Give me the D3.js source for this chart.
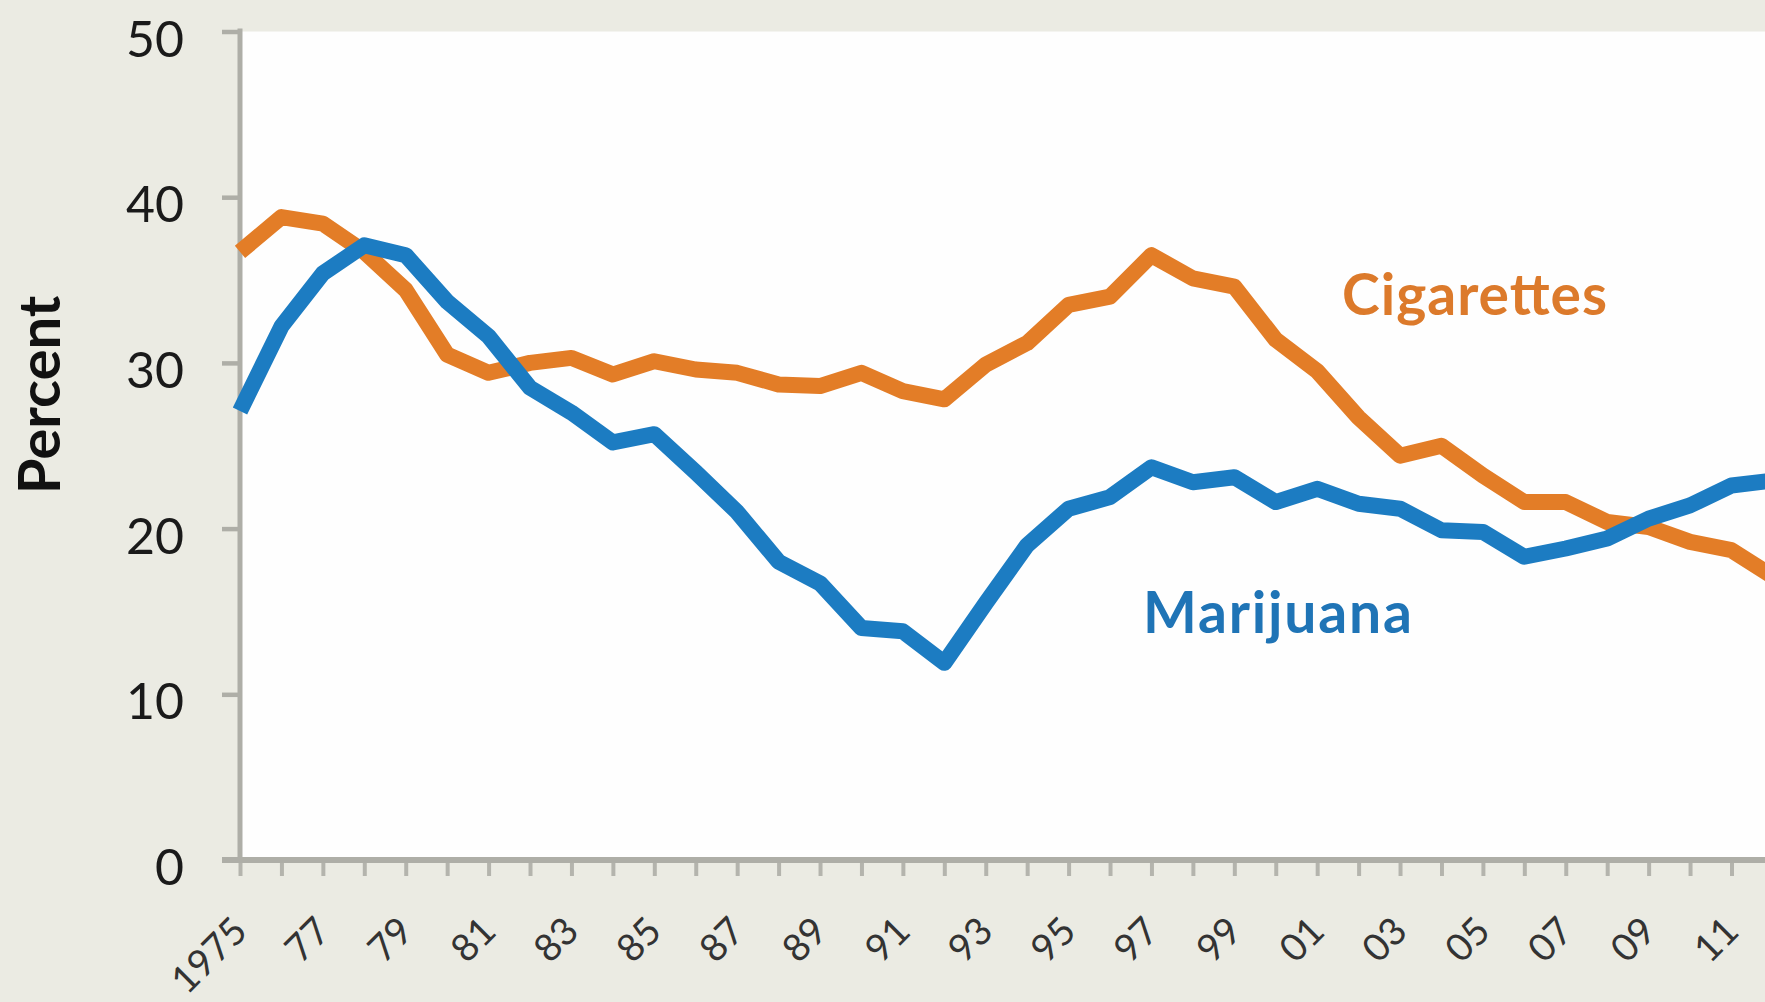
<!DOCTYPE html>
<html>
<head>
<meta charset="utf-8">
<script src="https://cdn.jsdelivr.net/npm/d3@7"></script>
<style>
  html, body { margin: 0; padding: 0; background: #ebebe3; }
  svg { display: block; }
</style>
</head>
<body>
<svg id="chart" width="1765" height="1002"></svg>
<script>
// 30-day prevalence among 12th graders, by survey year
const years = [1975, 1976, 1977, 1978, 1979, 1980, 1981, 1982, 1983, 1984,
               1985, 1986, 1987, 1988, 1989, 1990, 1991, 1992, 1993, 1994,
               1995, 1996, 1997, 1998, 1999, 2000, 2001, 2002, 2003, 2004,
               2005, 2006, 2007, 2008, 2009, 2010, 2011, 2012];

const cigarettes = [36.7, 38.8, 38.4, 36.7, 34.4, 30.5, 29.4, 30.0, 30.3, 29.3,
                    30.1, 29.6, 29.4, 28.7, 28.6, 29.4, 28.3, 27.8, 29.9, 31.2,
                    33.5, 34.0, 36.5, 35.1, 34.6, 31.4, 29.5, 26.7, 24.4, 25.0,
                    23.2, 21.6, 21.6, 20.4, 20.1, 19.2, 18.7, 17.1];

const marijuana = [27.1, 32.2, 35.4, 37.1, 36.5, 33.7, 31.6, 28.5, 27.0, 25.2,
                   25.7, 23.4, 21.0, 18.0, 16.7, 14.0, 13.8, 11.9, 15.5, 19.0,
                   21.2, 21.9, 23.7, 22.8, 23.1, 21.6, 22.4, 21.5, 21.2, 19.9,
                   19.8, 18.3, 18.8, 19.4, 20.6, 21.4, 22.6, 22.9];

const yTicks = [0, 10, 20, 30, 40, 50];
const xLabelYears = [1975, 1977, 1979, 1981, 1983, 1985, 1987, 1989, 1991, 1993,
                     1995, 1997, 1999, 2001, 2003, 2005, 2007, 2009, 2011];
const xLabels = ["1975", "77", "79", "81", "83", "85", "87", "89", "91", "93",
                 "95", "97", "99", "01", "03", "05", "07", "09", "11"];

const W = 1765, H = 1002;
const svg = d3.select("#chart");

const x = d3.scaleLinear().domain([1975, 2012]).range([240, 240 + 37 * 41.43]);
const y = d3.scaleLinear().domain([0, 50]).range([860, 31.5]);

const ORANGE = "#e37d27";
const BLUE = "#1c7cc2";
const AXIS = "#aeaea7";

// page background and white plot panel
svg.append("rect").attr("width", W).attr("height", H).attr("fill", "#ebebe3");
svg.append("rect")
  .attr("x", x(1975) + 2).attr("y", y(50))
  .attr("width", W - x(1975)).attr("height", y(0) - y(50))
  .attr("fill", "#fefefe");

// y axis
const yAxis = svg.append("g")
  .attr("transform", `translate(${x(1975)},0)`)
  .call(d3.axisLeft(y).tickValues(yTicks).tickSize(18).tickSizeOuter(0).tickPadding(38));
yAxis.select(".domain").attr("stroke", AXIS).attr("stroke-width", 5)
  .attr("d", `M0,${y(50) - 3}V${y(0)}`);
yAxis.selectAll(".tick line").attr("stroke", AXIS).attr("stroke-width", 4.5);
yAxis.selectAll(".tick text")
  .attr("fill", "#1a1a1a")
  .attr("font-family", "Lato, 'Open Sans', sans-serif")
  .attr("font-size", 50)
  .attr("dy", "0.35em")
  .attr("y", 7);

// x axis: baseline, yearly ticks, rotated labels every other year
const xAxis = svg.append("g")
  .attr("transform", `translate(0,${y(0)})`)
  .call(d3.axisBottom(x).tickValues(years).tickSize(16).tickSizeOuter(0).tickFormat(""));
xAxis.select(".domain").remove();
xAxis.selectAll(".tick line").attr("stroke", "#b4b4ad").attr("stroke-width", 4);
svg.append("line")
  .attr("x1", x(1975) - 18).attr("x2", W)
  .attr("y1", y(0)).attr("y2", y(0))
  .attr("stroke", AXIS).attr("stroke-width", 6);

svg.append("g").selectAll("text")
  .data(xLabelYears)
  .join("text")
  .attr("transform", d => `translate(${x(d)},924) rotate(-45)`)
  .attr("text-anchor", "end")
  .attr("dy", "0.35em")
  .attr("font-family", "Lato, 'Open Sans', sans-serif")
  .attr("font-size", 38)
  .attr("fill", "#333")
  .text((d, i) => xLabels[i]);

// y axis title
svg.append("text")
  .attr("transform", "translate(60,395) rotate(-90)")
  .attr("text-anchor", "middle")
  .attr("font-family", "Lato, 'Open Sans', sans-serif")
  .attr("font-weight", 700)
  .attr("font-size", 58)
  .attr("fill", "#111")
  .text("Percent");

// series lines
const line = d3.line()
  .x((d, i) => x(years[i]))
  .y(d => y(d));

svg.append("path")
  .datum(cigarettes)
  .attr("d", line)
  .attr("fill", "none")
  .attr("stroke", ORANGE)
  .attr("stroke-width", 16)
  .attr("stroke-linejoin", "round");

svg.append("path")
  .datum(marijuana)
  .attr("d", line)
  .attr("fill", "none")
  .attr("stroke", BLUE)
  .attr("stroke-width", 16)
  .attr("stroke-linejoin", "round");

// direct series labels
svg.append("text")
  .attr("x", 1342).attr("y", 315)
  .attr("font-family", "Lato, 'Open Sans', sans-serif")
  .attr("font-weight", 700)
  .attr("font-size", 57)
  .attr("textLength", 265)
  .attr("fill", "#dc7a2b")
  .text("Cigarettes");

svg.append("text")
  .attr("x", 1143).attr("y", 633)
  .attr("font-family", "Lato, 'Open Sans', sans-serif")
  .attr("font-weight", 700)
  .attr("font-size", 57)
  .attr("textLength", 269)
  .attr("fill", "#1f74b6")
  .text("Marijuana");
</script>
</body>
</html>
